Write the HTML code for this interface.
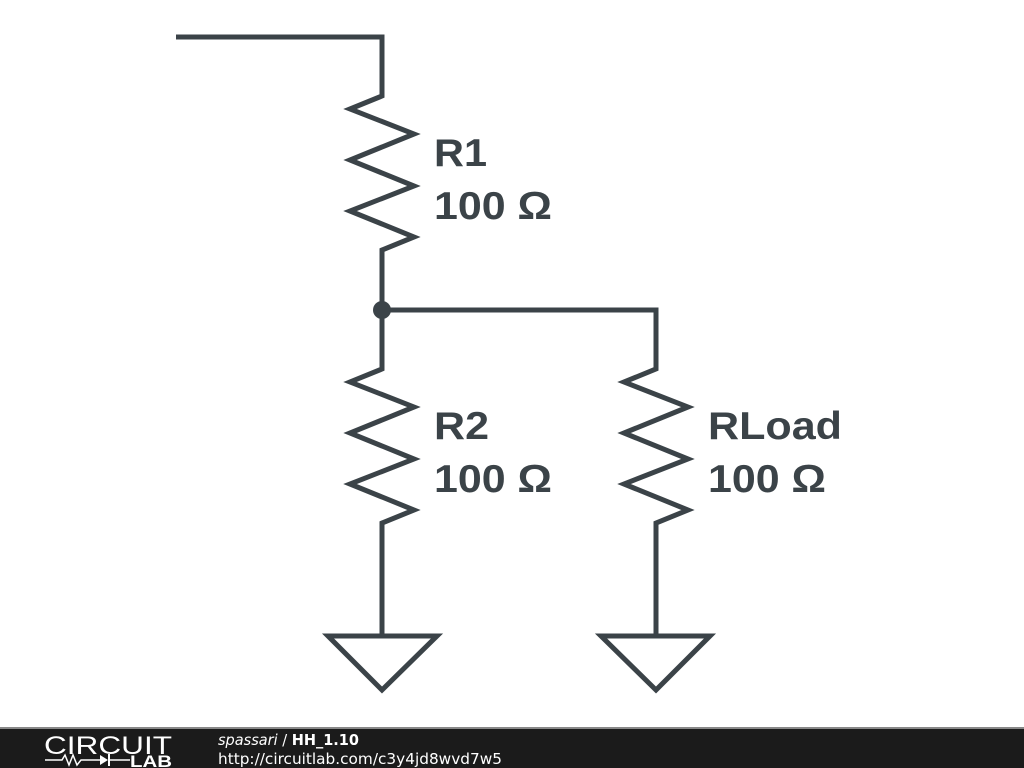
<!DOCTYPE html>
<html><head><meta charset="utf-8"><style>
body{margin:0;width:1024px;height:768px;background:#fff;overflow:hidden;position:relative;font-family:"Liberation Sans",sans-serif}
</style></head><body>
<svg width="1024" height="768" style="position:absolute;left:0;top:0">
<g fill="none" stroke="#3b4348" stroke-width="5" stroke-linejoin="miter" stroke-linecap="butt">
<polyline points="176,37 382,37 382,96 350,109 414,134 350,160 414,186 350,211 414,237 382,250 382,310 656,310 656,369 624,382 688,407 624,433 688,459 624,484 688,510 656,523 656,636"/>
<polyline points="382,310 382,369 350,382 414,407 350,433 414,459 350,484 414,510 382,523 382,636"/>
<polygon points="328,636 437,636 382,690"/>
<polygon points="601,636 710,636 656,690"/>
</g>
<circle cx="382" cy="310" r="9" fill="#3b4348"/>
<g fill="#3b4348" font-family="Liberation Sans, sans-serif" font-weight="bold" font-size="39">
<text x="434" y="166" textLength="53" lengthAdjust="spacingAndGlyphs">R1</text><text x="434" y="219" textLength="118" lengthAdjust="spacingAndGlyphs">100 Ω</text>
<text x="434" y="439" textLength="55" lengthAdjust="spacingAndGlyphs">R2</text><text x="434" y="492" textLength="118" lengthAdjust="spacingAndGlyphs">100 Ω</text>
<text x="708" y="439" textLength="134" lengthAdjust="spacingAndGlyphs">RLoad</text><text x="708" y="492" textLength="118" lengthAdjust="spacingAndGlyphs">100 Ω</text>
</g>
<rect x="0" y="728" width="1024" height="40" fill="#1b1b1b"/>
<rect x="0" y="727" width="1024" height="2" fill="#888"/>
<text x="44" y="754" fill="#fff" font-size="25" font-family="Liberation Sans, sans-serif" textLength="128" lengthAdjust="spacingAndGlyphs">CIRCUIT</text>
<polyline points="45,760 62,760 65,755 69,765 73,755 77,765 81,760 100,760" stroke="#fff" stroke-width="1.5" fill="none"/>
<polygon points="100,755 100,765 108,760" fill="#fff"/>
<line x1="109" y1="754" x2="109" y2="766" stroke="#fff" stroke-width="2"/>
<line x1="109" y1="760" x2="130" y2="760" stroke="#fff" stroke-width="1.5"/>
<text x="130" y="767" fill="#fff" font-size="17" font-weight="bold" font-family="Liberation Sans, sans-serif" textLength="42" lengthAdjust="spacingAndGlyphs">LAB</text>
<text x="218" y="745" fill="#fff" font-size="15" font-family="DejaVu Sans, sans-serif" textLength="141" lengthAdjust="spacingAndGlyphs"><tspan font-style="italic">spassari</tspan> / <tspan font-weight="bold">HH_1.10</tspan></text>
<text x="218" y="764" fill="#fff" font-size="15" font-family="DejaVu Sans, sans-serif" textLength="284" lengthAdjust="spacingAndGlyphs">http://circuitlab.com/c3y4jd8wvd7w5</text>
</svg>
</body></html>
